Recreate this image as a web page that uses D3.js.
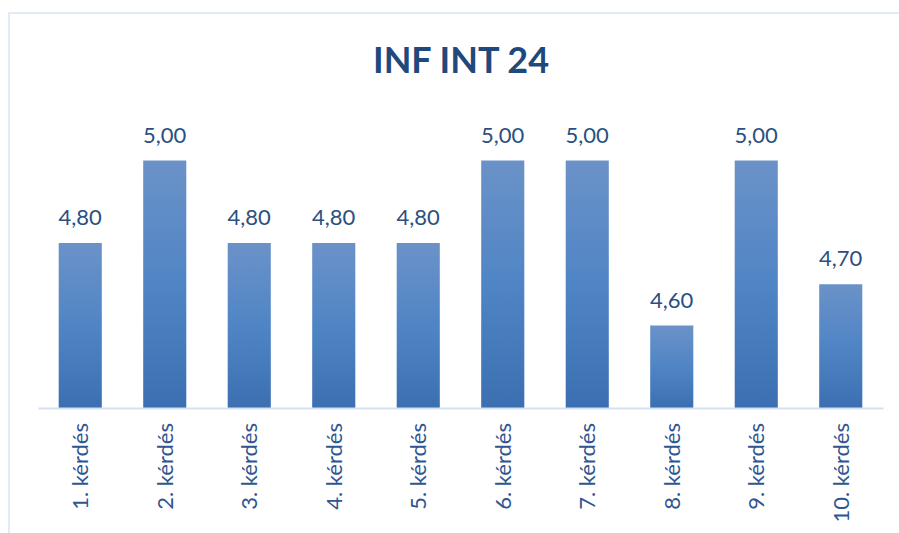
<!DOCTYPE html>
<html>
<head>
<meta charset="utf-8">
<script src="https://cdn.jsdelivr.net/npm/d3@7"></script>
<style>
  html, body { margin: 0; padding: 0; background: #ffffff; }
  svg { display: block; }
</style>
</head>
<body>
<svg id="chart" width="899" height="533"></svg>
<script>
// Question scores for the INF INT 24 course evaluation
const title = "INF INT 24";
const categories = ["1. kérdés", "2. kérdés", "3. kérdés", "4. kérdés", "5. kérdés",
                    "6. kérdés", "7. kérdés", "8. kérdés", "9. kérdés", "10. kérdés"];
const scores = [4.80, 5.00, 4.80, 4.80, 4.80, 5.00, 5.00, 4.60, 5.00, 4.70];
const valueDomain = [4.4, 5.2];

const svg = d3.select("#chart");
const W = 899, H = 533;
const plot = { left: 38, right: 883, top: 78, bottom: 408 };
const fontFamily = "Lato, 'Open Sans', sans-serif";

// Chart frame
svg.append("rect")
  .attr("x", 9).attr("y", 13)
  .attr("width", W + 10).attr("height", H)
  .attr("fill", "#ffffff")
  .attr("stroke", "#d9e4f3")
  .attr("stroke-width", 1.5);

// Vertical gradient for the bars
const defs = svg.append("defs");
const grad = defs.append("linearGradient")
  .attr("id", "barFill")
  .attr("x1", 0).attr("y1", 0).attr("x2", 0).attr("y2", 1);
grad.append("stop").attr("offset", "0%").attr("stop-color", "#6b92c8");
grad.append("stop").attr("offset", "50%").attr("stop-color", "#4f85c5");
grad.append("stop").attr("offset", "100%").attr("stop-color", "#3b6fb1");

const x = d3.scaleBand()
  .domain(categories)
  .range([plot.left, plot.right])
  .paddingInner(0.49)
  .paddingOuter(0.245);

const y = d3.scaleLinear()
  .domain(valueDomain)
  .range([plot.bottom, plot.top]);

const data = categories.map((c, i) => ({ cat: c, value: scores[i] }));

// Bars
svg.append("g")
  .selectAll("rect")
  .data(data)
  .join("rect")
  .attr("x", d => x(d.cat))
  .attr("width", x.bandwidth())
  .attr("y", d => y(d.value))
  .attr("height", d => y(valueDomain[0]) - y(d.value))
  .attr("fill", "url(#barFill)");

// Value labels above the bars
const fmt = v => v.toFixed(2).replace(".", ",");
svg.append("g")
  .selectAll("text")
  .data(data)
  .join("text")
  .attr("x", d => x(d.cat) + x.bandwidth() / 2)
  .attr("y", d => y(d.value) - 18)
  .attr("text-anchor", "middle")
  .attr("font-family", fontFamily)
  .attr("font-size", 22)
  .attr("fill", "#2a5081")
  .text(d => fmt(d.value));

// Category axis
const xAxis = d3.axisBottom(x).tickSize(0).tickPadding(0);
const gx = svg.append("g")
  .attr("transform", `translate(0,${plot.bottom})`)
  .call(xAxis);
gx.select(".domain")
  .attr("stroke", "#d6e1f1")
  .attr("stroke-width", 2);
gx.selectAll(".tick text")
  .attr("font-family", fontFamily)
  .attr("font-size", 22)
  .attr("fill", "#2f5690")
  .attr("text-anchor", "end")
  .attr("dy", null)
  .attr("y", 0)
  .attr("transform", "translate(8,15) rotate(-90)");

// Title
svg.append("text")
  .attr("x", 461)
  .attr("y", 73)
  .attr("text-anchor", "middle")
  .attr("font-family", fontFamily)
  .attr("font-weight", "bold")
  .attr("font-size", 36)
  .attr("fill", "#1f497d")
  .text(title);
</script>
</body>
</html>
